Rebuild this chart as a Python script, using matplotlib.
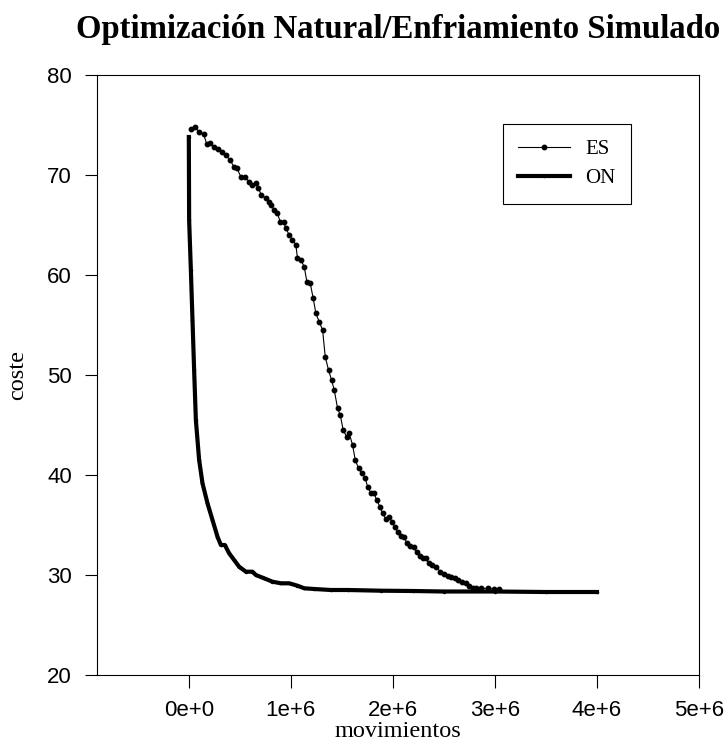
import matplotlib
matplotlib.use("Agg")
import matplotlib.pyplot as plt

# --- data ---
es_x = [0.020, 0.059, 0.101, 0.144, 0.176, 0.209, 0.248, 0.288, 0.330, 0.363,
        0.405, 0.444, 0.471, 0.510, 0.549, 0.592, 0.624, 0.657, 0.680, 0.712,
        0.755, 0.788, 0.804, 0.837, 0.869, 0.895, 0.928, 0.951, 0.984, 1.016,
        1.049, 1.065, 1.098, 1.131, 1.157, 1.190, 1.219, 1.245, 1.278, 1.311,
        1.337, 1.369, 1.399, 1.425, 1.458, 1.484, 1.513, 1.546, 1.572, 1.605,
        1.631, 1.664, 1.696, 1.729, 1.752, 1.784, 1.817, 1.840, 1.873, 1.899,
        1.931, 1.964, 1.990, 2.020, 2.046, 2.078, 2.111, 2.137, 2.170, 2.203,
        2.232, 2.265, 2.297, 2.324, 2.350, 2.382, 2.422, 2.464, 2.503, 2.536,
        2.569, 2.608, 2.641, 2.673, 2.716, 2.748, 2.781, 2.814, 2.863, 2.928,
        2.993, 3.042]
es_y = [74.57, 74.77, 74.33, 74.10, 73.10, 73.17, 72.83, 72.57, 72.33, 72.00,
        71.50, 70.77, 70.67, 69.83, 69.77, 69.33, 69.00, 69.17, 68.67, 68.00,
        67.67, 67.33, 67.00, 66.50, 66.17, 65.33, 65.33, 64.67, 64.00, 63.50,
        63.00, 61.67, 61.50, 60.83, 59.33, 59.17, 57.67, 56.17, 55.33, 54.50,
        51.83, 50.50, 49.50, 48.50, 46.67, 46.00, 44.50, 43.83, 44.17, 43.00,
        41.50, 40.67, 40.17, 39.67, 38.83, 38.17, 38.17, 37.50, 36.83, 36.17,
        35.57, 35.83, 35.33, 34.83, 34.33, 33.90, 33.77, 33.17, 32.90, 32.77,
        32.33, 31.90, 31.73, 31.67, 31.17, 31.00, 30.83, 30.33, 30.10, 29.90,
        29.77, 29.67, 29.50, 29.33, 29.17, 28.93, 28.73, 28.67, 28.67, 28.67,
        28.60, 28.57]

on_x = [0.000, 0.003, 0.020, 0.036, 0.052, 0.069, 0.101, 0.134, 0.183, 0.232,
        0.281, 0.314, 0.353, 0.395, 0.444, 0.493, 0.559, 0.624, 0.657, 0.738,
        0.820, 0.902, 0.984, 1.065, 1.131, 1.229, 1.392, 1.556, 1.882, 2.200,
        2.500, 3.000, 3.500, 4.000]
on_y = [73.8, 65.5, 60.5, 55.5, 50.5, 45.5, 41.5, 39.17, 37.17, 35.5,
        33.83, 33.0, 33.0, 32.17, 31.5, 30.83, 30.33, 30.33, 30.0, 29.67,
        29.33, 29.17, 29.17, 28.93, 28.67, 28.6, 28.5, 28.5, 28.43, 28.4,
        28.35, 28.35, 28.3, 28.3]

x_ticks = [0, 1e6, 2e6, 3e6, 4e6, 5e6]
x_tick_labels = ["0e+0", "1e+6", "2e+6", "3e+6", "4e+6", "5e+6"]
y_ticks = [20, 30, 40, 50, 60, 70, 80]

serif = "Liberation Serif"
sans = "Liberation Sans"

fig = plt.figure(figsize=(7.26, 7.51), dpi=100)
ax = fig.add_axes([0.1336, 0.1012, 0.8292, 0.7989])

ax.plot([v * 1e6 for v in es_x], es_y, color="black", lw=0.8,
        marker="o", markersize=3.2, label="ES")
ax.plot([v * 1e6 for v in on_x], on_y, color="black", lw=3.0,
        marker="o", markersize=1.5, label="ON")

ax.set_xlim(-0.9e6, 5e6)
ax.set_ylim(20, 80)
ax.set_xticks(x_ticks)
ax.set_xticklabels(x_tick_labels)
ax.set_yticks(y_ticks)
ax.tick_params(direction="out", length=9, width=0.8, pad=9, labelsize=16)
for lab in ax.get_xticklabels() + ax.get_yticklabels():
    lab.set_family(sans)
for s in ax.spines.values():
    s.set_linewidth(0.8)

ax.set_xlabel("movimientos", family=serif, fontsize=17.5, labelpad=0)
ax.set_ylabel("coste", family=serif, fontsize=17.5, labelpad=14)
ax.set_title("Optimización Natural/Enfriamiento Simulado", family=serif,
             fontsize=23.6, fontweight="bold", pad=27)

leg = ax.legend(loc="upper left", bbox_to_anchor=(0.674, 0.918),
                borderaxespad=0, numpoints=1, fancybox=False, framealpha=1,
                edgecolor="black", prop={"family": serif, "size": 15},
                handlelength=2.5, handletextpad=0.7, borderpad=0.75,
                labelspacing=0.45)
leg.get_frame().set_linewidth(0.8)

fig.savefig("out.png", dpi=100)
